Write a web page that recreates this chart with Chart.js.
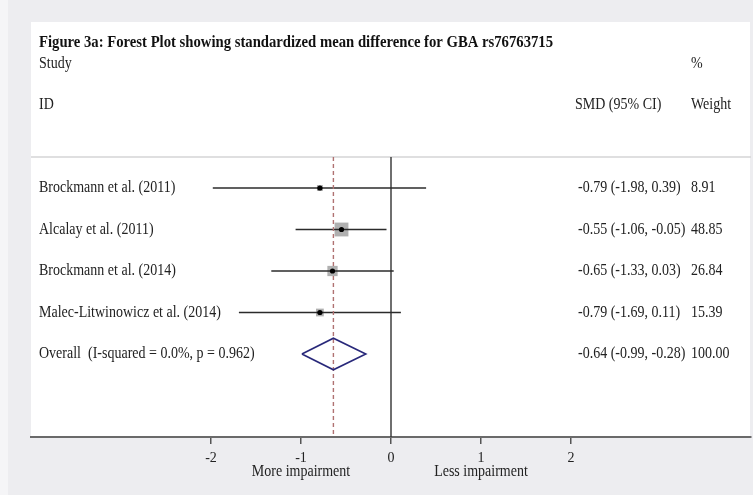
<!DOCTYPE html>
<html>
<head>
<meta charset="utf-8">
<script src="https://cdn.jsdelivr.net/npm/chart.js@4.4.1/dist/chart.umd.min.js"></script>
<style>
  html, body { margin: 0; padding: 0; background: #ededf0; }
  #forest { display: block; }
</style>
</head>
<body>
<canvas id="forest" width="753" height="495"></canvas>
<script>
// study rows
const studies = [
  'Brockmann et al. (2011)',
  'Alcalay et al. (2011)',
  'Brockmann et al. (2014)',
  'Malec-Litwinowicz et al. (2014)'
];
const smd = [-0.79, -0.55, -0.65, -0.79];
const ciLow = [-1.98, -1.06, -1.33, -1.69];
const ciHigh = [0.39, -0.05, 0.03, 0.11];
const weights = [8.91, 48.85, 26.84, 15.39];

// pooled estimate
const overallLabel = 'Overall  (I-squared = 0.0%, p = 0.962)';
const overallSmd = -0.64;
const overallLow = -0.99;
const overallHigh = -0.28;
const overallWeight = 100.00;

const xTicks = [-2, -1, 0, 1, 2];
const title = 'Figure 3a: Forest Plot showing standardized mean difference for GBA rs76763715';

// row positions in y units (rows 1..n, overall after them)
const SEP_ROW = 0.25;
const Y_MIN = -3, Y_MAX = 7;
const overallRow = studies.length + 1;
const serif = '"Liberation Serif", "Times New Roman", serif';

const ciText = (e, l, h) => e.toFixed(2) + ' (' + l.toFixed(2) + ', ' + h.toFixed(2) + ')';

// text in the source is a bit taller than plain Times, stretch it slightly
function tallText(ctx, str, x, y) {
  ctx.save();
  ctx.translate(x, y);
  ctx.scale(1, 1.15);
  ctx.fillText(str, 0, 0);
  ctx.restore();
}

const forestDecor = {
  id: 'forestDecor',
  beforeDraw(chart) {
    const {ctx, chartArea: a, scales: {y}} = chart;
    ctx.save();
    ctx.fillStyle = '#ededf0';
    ctx.fillRect(0, 0, chart.width, chart.height);
    ctx.fillStyle = '#f5f5f7';
    ctx.fillRect(0, 0, 8, chart.height);
    ctx.fillStyle = '#ffffff';
    ctx.fillRect(a.left, a.top, a.right - a.left - 1, a.bottom - a.top);
    const sy = y.getPixelForValue(SEP_ROW);
    ctx.strokeStyle = '#d4d4d6';
    ctx.lineWidth = 1.5;
    ctx.beginPath();
    ctx.moveTo(a.left, sy);
    ctx.lineTo(a.right, sy);
    ctx.stroke();
    ctx.restore();
  },
  afterDraw(chart) {
    const {ctx, chartArea: a, scales: {x, y}} = chart;
    const labelX = a.left + 8;
    const ciX = 578;
    const wX = 691;
    ctx.save();
    ctx.textBaseline = 'middle';
    ctx.fillStyle = '#111';
    ctx.font = 'bold 14.7px ' + serif;
    tallText(ctx, title, labelX, y.getPixelForValue(-2.5));

    ctx.fillStyle = '#222';
    ctx.font = '14px ' + serif;
    tallText(ctx, 'Study', labelX, y.getPixelForValue(-2));
    tallText(ctx, '%', wX, y.getPixelForValue(-2));
    tallText(ctx, 'ID', labelX, y.getPixelForValue(-1));
    tallText(ctx, 'SMD (95% CI)', ciX - 3, y.getPixelForValue(-1));
    tallText(ctx, 'Weight', wX, y.getPixelForValue(-1));

    studies.forEach((s, i) => {
      const py = y.getPixelForValue(i + 1);
      tallText(ctx, s, labelX, py);
      tallText(ctx, ciText(smd[i], ciLow[i], ciHigh[i]), ciX, py);
      tallText(ctx, weights[i].toFixed(2), wX, py);
    });
    const oy = y.getPixelForValue(overallRow);
    tallText(ctx, overallLabel, labelX, oy);
    tallText(ctx, ciText(overallSmd, overallLow, overallHigh), ciX, oy);
    tallText(ctx, overallWeight.toFixed(2), wX, oy);

    ctx.textAlign = 'center';
    tallText(ctx, 'More impairment', x.getPixelForValue(-1), 472);
    tallText(ctx, 'Less impairment', x.getPixelForValue(1), 472);
    ctx.restore();
  }
};

const ciSets = studies.map((s, i) => ({
  type: 'line',
  data: [{x: ciLow[i], y: i + 1}, {x: ciHigh[i], y: i + 1}],
  borderColor: '#2b2b2b',
  borderWidth: 1.6,
  pointRadius: 0,
  order: 3
}));

new Chart(document.getElementById('forest').getContext('2d'), {
  type: 'scatter',
  data: {
    datasets: [
      {
        // point estimates
        data: smd.map((v, i) => ({x: v, y: i + 1})),
        backgroundColor: '#000',
        borderWidth: 0,
        pointRadius: 2.6,
        order: 0
      },
      {
        // pooled diamond
        type: 'line',
        data: [
          {x: overallLow, y: overallRow},
          {x: overallSmd, y: overallRow - 0.38},
          {x: overallHigh, y: overallRow},
          {x: overallSmd, y: overallRow + 0.38},
          {x: overallLow, y: overallRow}
        ],
        borderColor: '#28287a',
        borderWidth: 1.6,
        pointRadius: 0,
        tension: 0,
        order: 1
      },
      {
        // pooled estimate reference
        type: 'line',
        data: [{x: overallSmd, y: SEP_ROW}, {x: overallSmd, y: Y_MAX}],
        borderColor: '#b07272',
        borderWidth: 1.4,
        borderDash: [4, 3],
        pointRadius: 0,
        order: 2
      },
      ...ciSets,
      {
        // null line
        type: 'line',
        data: [{x: 0, y: SEP_ROW}, {x: 0, y: Y_MAX}],
        borderColor: '#333',
        borderWidth: 1.4,
        pointRadius: 0,
        order: 4
      },
      {
        // weight boxes
        data: smd.map((v, i) => ({x: v, y: i + 1})),
        pointStyle: 'rect',
        backgroundColor: '#b0b0b0',
        borderWidth: 0,
        pointRadius: weights.map(w => 1.4 * Math.sqrt(w)),
        order: 5
      }
    ]
  },
  options: {
    responsive: false,
    animation: false,
    devicePixelRatio: 1,
    layout: { autoPadding: false, padding: { top: 22, left: 31, right: 2, bottom: 0 } },
    plugins: { legend: { display: false }, tooltip: { enabled: false } },
    scales: {
      x: {
        type: 'linear',
        min: -4,
        max: 4,
        afterBuildTicks: s => { s.ticks = xTicks.map(v => ({value: v})); },
        afterFit: s => { s.height = 58; },
        grid: { drawOnChartArea: false, drawTicks: true, tickLength: 7, color: '#555', lineWidth: 1.5 },
        border: { display: true, color: '#6a6a6a', width: 2 },
        ticks: { color: '#222', padding: 6, font: { family: serif, size: 14 } }
      },
      y: {
        type: 'linear',
        display: false,
        reverse: true,
        min: Y_MIN,
        max: Y_MAX
      }
    }
  },
  plugins: [forestDecor]
});
</script>
</body>
</html>
